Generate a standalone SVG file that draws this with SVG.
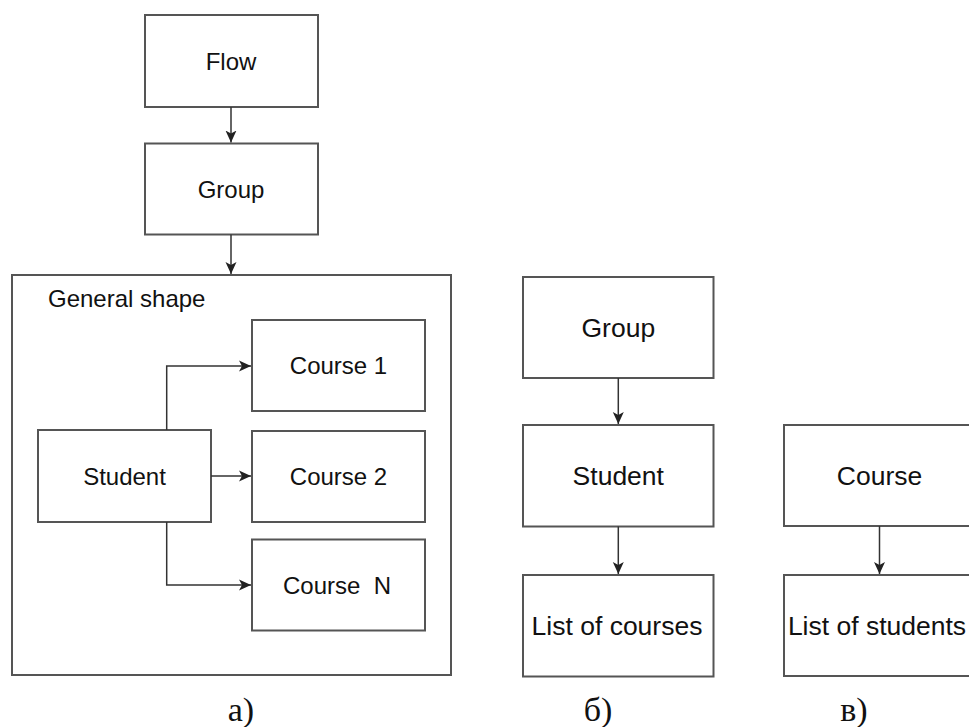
<svg xmlns="http://www.w3.org/2000/svg" width="969" height="727" viewBox="0 0 969 727">
<style>
.box{fill:#fff;stroke:#555;stroke-width:2}
.t{font-family:"Liberation Sans",Arial,sans-serif;font-size:24px;fill:#111;text-anchor:middle}
.t2{font-family:"Liberation Sans",Arial,sans-serif;font-size:26.5px;fill:#111;text-anchor:middle}
.lbl{font-family:"Liberation Serif","Times New Roman",serif;font-size:34px;fill:#111;text-anchor:middle}
.c{fill:none;stroke:#333;stroke-width:1.5}
</style>
<defs>
<marker id="arr" markerUnits="userSpaceOnUse" markerWidth="12" markerHeight="12" viewBox="0 0 12 12" refX="12" refY="6" orient="auto">
<path d="M0,0.5 L12,6 L0,11.5 L3,6 z" fill="#222"/>
</marker>
</defs>
<rect width="969" height="727" fill="#fff"/>
<g id="outer"><rect class="box" x="12" y="275" width="439" height="400"/><text class="t" x="48" y="307" style="text-anchor:start">General shape</text></g>
<g id="flow"><rect class="box" x="145" y="15" width="173" height="92"/><text class="t" x="231" y="69.6">Flow</text></g>
<g id="group-a"><rect class="box" x="145" y="143.5" width="173" height="91"/><text class="t" x="231" y="197.6">Group</text></g>
<g id="student-a"><rect class="box" x="38" y="430" width="173" height="92"/><text class="t" x="124.5" y="484.6">Student</text></g>
<g id="course1"><rect class="box" x="252" y="320" width="173" height="91"/><text class="t" x="338.5" y="374">Course 1</text></g>
<g id="course2"><rect class="box" x="252" y="431" width="173" height="91"/><text class="t" x="338.5" y="485">Course 2</text></g>
<g id="courseN"><rect class="box" x="252" y="539.5" width="173" height="91"/><text class="t" x="337" y="593.6" xml:space="preserve">Course  N</text></g>
<g id="group-b"><rect class="box" x="523" y="277" width="190.5" height="101"/><text class="t2" x="618.3" y="336.5">Group</text></g>
<g id="student-b"><rect class="box" x="523" y="425" width="190.5" height="101.5"/><text class="t2" x="618.3" y="485.3">Student</text></g>
<g id="courses-list"><rect class="box" x="523" y="575" width="190.5" height="101.5"/><text class="t2" x="617" y="635.3">List of courses</text></g>
<g id="course-v"><rect class="box" x="784" y="425" width="191" height="101"/><text class="t2" x="879.5" y="485">Course</text></g>
<g id="students-list"><rect class="box" x="784" y="575" width="191" height="101"/><text class="t2" x="877" y="635">List of students</text></g>
<g id="connectors">
<path class="c" d="M231,107 V142.5" marker-end="url(#arr)"/>
<path class="c" d="M231,234.5 V274" marker-end="url(#arr)"/>
<path class="c" d="M166.7,430 V366 H251" marker-end="url(#arr)"/>
<path class="c" d="M211,476 H251" marker-end="url(#arr)"/>
<path class="c" d="M166.7,522 V585 H251" marker-end="url(#arr)"/>
<path class="c" d="M618.3,378 V424" marker-end="url(#arr)"/>
<path class="c" d="M618.3,526.5 V574" marker-end="url(#arr)"/>
<path class="c" d="M879.5,526 V574" marker-end="url(#arr)"/>
</g>
<g id="labels">
<text class="lbl" x="241" y="721">а)</text>
<text class="lbl" x="598" y="721">б)</text>
<text class="lbl" x="854" y="721">в)</text>
</g>
</svg>
